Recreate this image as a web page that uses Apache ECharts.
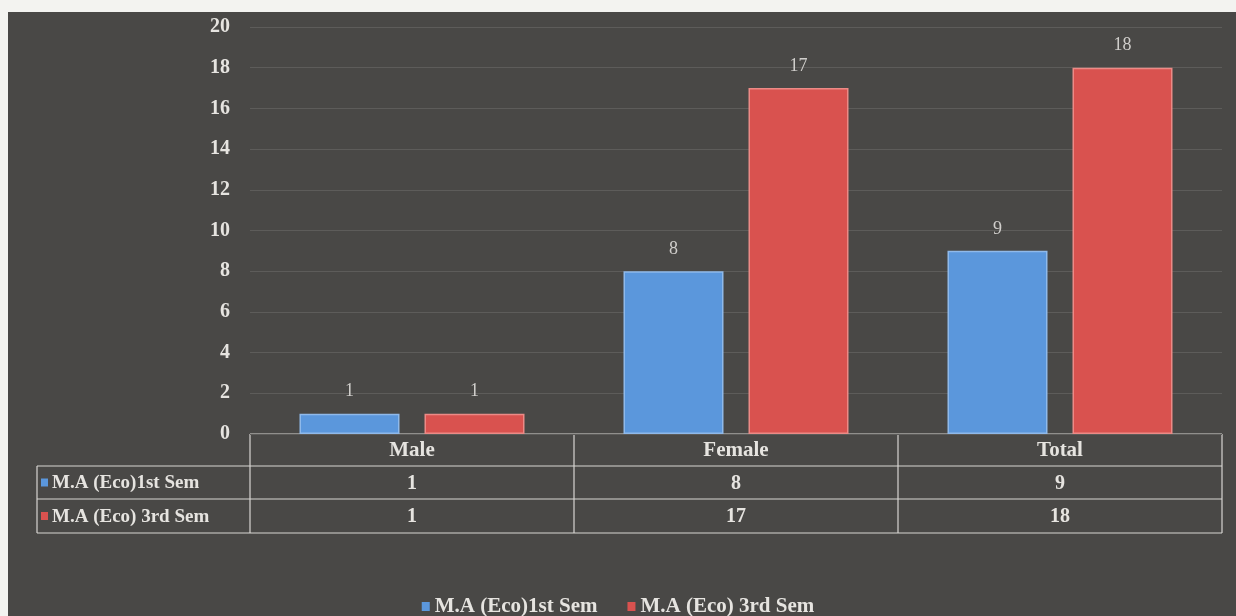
<!DOCTYPE html>
<html>
<head>
<meta charset="utf-8">
<script src="https://cdn.jsdelivr.net/npm/echarts@6/dist/echarts.min.js"></script>
<style>
html,body{margin:0;padding:0;background:#f3f3f0;}
#main{width:1236px;height:616px;}
</style>
</head>
<body>
<div id="main"></div>
<script>
// 数据
var categories = ['Male', 'Female', 'Total'];
var seriesNames = ['M.A (Eco)1st Sem', 'M.A (Eco) 3rd Sem'];
var sem1 = [1, 8, 9];
var sem3 = [1, 17, 18];
var yTicks = [0, 2, 4, 6, 8, 10, 12, 14, 16, 18, 20];

var colors = ['#5b97dc', '#d9524f'];
var borders = ['#8fb9ea', '#ec8a86'];
var txt = '#e6e4e0';
var font = '"Liberation Serif", "DejaVu Serif", serif';

// grid 像素位置
var G = {left: 250, right: 1222, top: 27, bottom: 434};
var rowY = [434, 466, 499, 533];
var tableLeft = 37;

var graphics = [];
// 背景
graphics.push({type: 'rect', z: -100, silent: true,
	shape: {x: 8, y: 12, width: 1228, height: 604},
	style: {fill: '#494846'}});

// 表格线
var lineStyle = {stroke: '#d8d6d2', lineWidth: 1.2};
var colW = (G.right - G.left) / categories.length;
graphics.push({type: 'line', shape: {x1: G.left, y1: rowY[0], x2: G.right, y2: rowY[0]}, style: lineStyle});
for (var r = 1; r < rowY.length; r++) {
	graphics.push({type: 'line', shape: {x1: tableLeft, y1: rowY[r], x2: G.right, y2: rowY[r]}, style: lineStyle});
}
graphics.push({type: 'line', shape: {x1: tableLeft, y1: rowY[1], x2: tableLeft, y2: rowY[3]}, style: lineStyle});
for (var c = 0; c <= categories.length; c++) {
	var x = G.left + colW * c;
	graphics.push({type: 'line', shape: {x1: x, y1: rowY[0], x2: x, y2: rowY[3]}, style: lineStyle});
}
// 表头与数值
var rows = [sem1, sem3];
for (var i = 0; i < categories.length; i++) {
	var cx = G.left + colW * (i + 0.5);
	graphics.push({type: 'text', x: cx, y: (rowY[0] + rowY[1]) / 2 + 1,
		style: {text: categories[i], fill: txt, font: 'bold 21px ' + font, align: 'center', verticalAlign: 'middle'}});
	for (var k = 0; k < rows.length; k++) {
		graphics.push({type: 'text', x: cx, y: (rowY[k + 1] + rowY[k + 2]) / 2 + 1,
			style: {text: String(rows[k][i]), fill: txt, font: 'bold 20px ' + font, align: 'center', verticalAlign: 'middle'}});
	}
}
for (var k = 0; k < seriesNames.length; k++) {
	var my = (rowY[k + 1] + rowY[k + 2]) / 2;
	graphics.push({type: 'rect', shape: {x: 41, y: my - 4, width: 7, height: 8}, style: {fill: colors[k]}});
	graphics.push({type: 'text', x: 52, y: my + 1,
		style: {text: seriesNames[k], fill: txt, font: 'bold 19px ' + font, align: 'left', verticalAlign: 'middle'}});
}

var myChart = echarts.init(document.getElementById('main'));
var option = {
	backgroundColor: '#f3f3f0',
	animation: false,
	grid: {left: G.left, right: 1236 - G.right, top: G.top, bottom: 616 - G.bottom},
	legend: {
		data: seriesNames,
		top: 591,
		left: 'center',
		icon: 'rect',
		itemWidth: 8,
		itemHeight: 9,
		itemGap: 30,
		itemStyle: {borderWidth: 0},
		textStyle: {color: txt, fontFamily: font, fontWeight: 'bold', fontSize: 21}
	},
	xAxis: {
		type: 'category',
		data: categories,
		axisLine: {show: false},
		axisTick: {show: false},
		axisLabel: {show: false}
	},
	yAxis: {
		type: 'value',
		min: yTicks[0],
		max: yTicks[yTicks.length - 1],
		interval: 2,
		axisLine: {show: false},
		axisTick: {show: false},
		axisLabel: {color: txt, fontFamily: font, fontWeight: 'bold', fontSize: 20, margin: 20},
		splitLine: {lineStyle: {color: '#5d5c5a', width: 1}}
	},
	series: [
		{
			name: seriesNames[0],
			type: 'bar',
			data: sem1,
			barWidth: 100,
			barGap: '25%',
			itemStyle: {color: colors[0], borderColor: borders[0], borderWidth: 1.5},
			label: {show: true, position: 'top', distance: 13, color: '#d0cecb', fontFamily: font, fontSize: 18}
		},
		{
			name: seriesNames[1],
			type: 'bar',
			data: sem3,
			barWidth: 100,
			itemStyle: {color: colors[1], borderColor: borders[1], borderWidth: 1.5},
			label: {show: true, position: 'top', distance: 13, color: '#d0cecb', fontFamily: font, fontSize: 18}
		}
	],
	graphic: graphics
};
myChart.setOption(option);
</script>
</body>
</html>
